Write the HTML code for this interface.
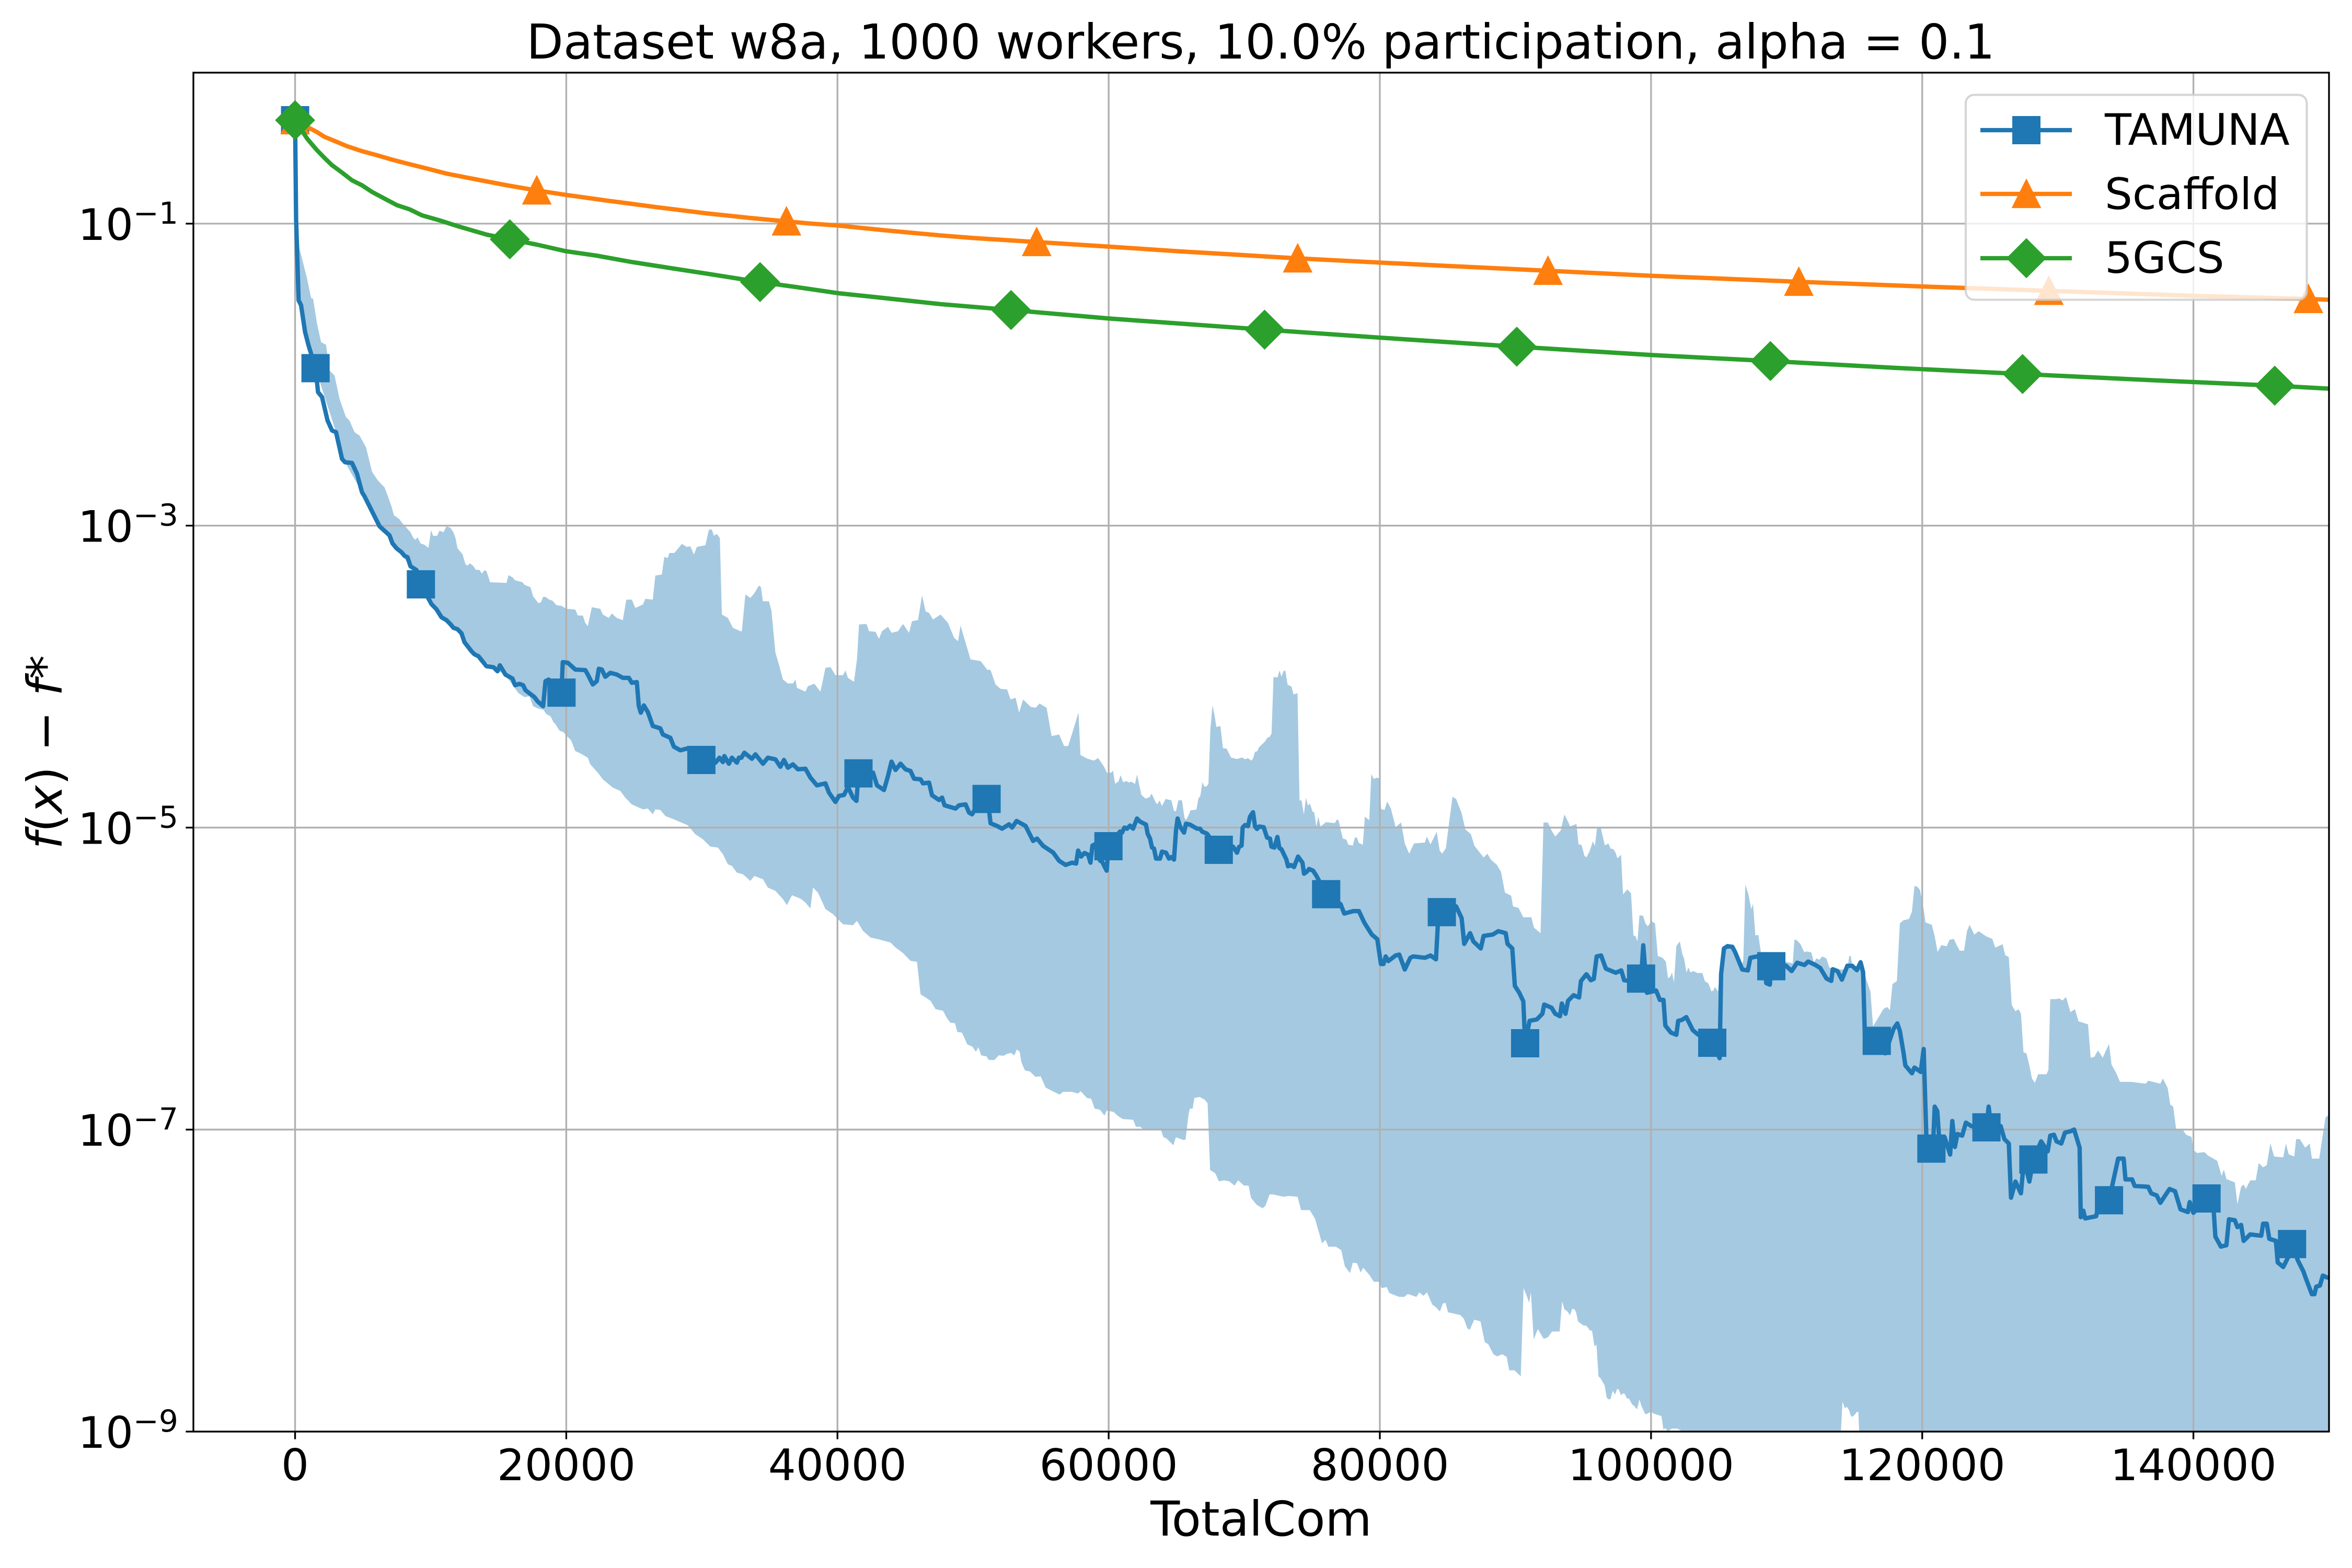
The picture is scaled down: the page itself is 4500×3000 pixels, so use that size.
<!DOCTYPE html>
<html lang="en">
<head>
<meta charset="utf-8">
<title>Dataset w8a convergence chart</title>
<style>
html,body{margin:0;padding:0;background:#fff;width:4500px;height:3000px;overflow:hidden}
svg{display:block}
text{font-family:"DejaVu Sans","Liberation Sans",sans-serif;fill:#000}
</style>
</head>
<body>
<svg id="chart" xmlns="http://www.w3.org/2000/svg" width="4500" height="3000" viewBox="0 0 4500 3000">
  <defs>
    <clipPath id="plot-clip"><rect x="370" y="139" width="4086" height="2600"></rect></clipPath>
  </defs>
  <rect x="0" y="0" width="4500" height="3000" fill="#fff"></rect>
  <g id="band-layer" clip-path="url(#plot-clip)"></g>
  <g id="grid-layer"></g>
  <g id="line-layer" clip-path="url(#plot-clip)"></g>
  <g id="tick-layer"></g>
  <rect x="370" y="139" width="4086" height="2600" fill="none" stroke="#000" stroke-width="3.33"></rect>
  <text x="2412" y="112" font-size="91.67" text-anchor="middle">Dataset w8a, 1000 workers, 10.0% participation, alpha = 0.1</text>
  <text x="2413" y="2938" font-size="91.67" text-anchor="middle">TotalCom</text>
  <text transform="translate(118 1439) rotate(-90)" font-size="91.67" text-anchor="middle"><tspan font-style="italic">f</tspan>(<tspan font-style="italic">x</tspan>) − <tspan font-style="italic">f</tspan>*</text>
  <g id="legend">
    <rect x="3761" y="181.5" width="652.5" height="392" rx="16" ry="16" fill="#fff" fill-opacity="0.8" stroke="#ccc" stroke-opacity="0.8" stroke-width="4.17"></rect>
    <g>
      <line x1="3789" x2="3964" y1="249" y2="249" stroke="#1f77b4" stroke-width="8.33"></line>
      <rect x="3850" y="222" width="54" height="54" fill="#1f77b4"></rect>
      <text x="4027" y="277" font-size="83.33">TAMUNA</text>
    </g>
    <g>
      <line x1="3789" x2="3964" y1="371" y2="371" stroke="#ff7f0e" stroke-width="8.33"></line>
      <path d="M3877 346L3902 396L3852 396Z" fill="#ff7f0e" stroke="#ff7f0e" stroke-width="4.17" stroke-linejoin="miter"></path>
      <text x="4027" y="400" font-size="83.33">Scaffold</text>
    </g>
    <g>
      <line x1="3789" x2="3964" y1="494" y2="494" stroke="#2ca02c" stroke-width="8.33"></line>
      <path d="M3877 458.6L3912.4 494L3877 529.4L3841.6 494Z" fill="#2ca02c" stroke="#2ca02c" stroke-width="4.17" stroke-linejoin="miter"></path>
      <text x="4027" y="522" font-size="83.33">5GCS</text>
    </g>
  </g>
</svg>
<script>
// ---- tick data ----
const xTickValues = [0, 20000, 40000, 60000, 80000, 100000, 120000, 140000];
const xTickLabels = ["0", "20000", "40000", "60000", "80000", "100000", "120000", "140000"];
const yTickExponents = [-1, -3, -5, -7, -9];
const yTickLabels = ["−1", "−3", "−5", "−7", "−9"];

// ---- TAMUNA mean (TotalCom, log10 of f(x)-f*) ----
const tamunaCom = [0,74,258,442,737,995,1510,1694,1989,2394,2725,3020,3462,3683,4199,4567,4935,5118,5560,6225,6520,6962,7183,7478,7847,8068,8290,8511,8954,9278,9700,10060,10428,10797,11166,11461,11682,11977,12272,12493,13010,13231,13526,13821,14116,14632,14927,15104,15517,16033,16225,16549,16815,16992,17656,17877,18290,18467,18700,19647,19742,20110,20664,21402,21587,21956,22251,22399,22620,22878,23247,23727,24170,24612,24834,25203,25351,25498,25720,26015,26384,26937,27122,27675,27934,28413,28967,29963,31000,31295,31550,31660,31993,32214,32583,32730,32915,33136,33690,33948,34502,34871,35424,35793,36052,36347,36716,37085,37638,38007,38487,39114,39372,39852,40110,40479,40774,41144,41402,41550,42620,42915,43432,43727,43985,44280,44649,45018,45387,45646,46125,46310,46753,46974,47491,47713,47897,48709,48967,49447,49705,49927,50400,50996,51200,51291,51771,52140,52657,52878,53210,53874,54427,54723,55166,55904,56347,56827,57300,57600,57747,57968,58217,58483,58660,58805,59000,59366,59514,59853,59985,60840,60988,61164,61356,61577,61798,62093,62314,62756,62874,63051,63198,63346,63493,63788,63935,64230,64451,64628,64820,64968,65085,65262,65557,65705,66000,66516,66737,66885,67253,68120,69170,69465,69613,69805,69880,70057,70278,70426,70647,70795,70943,71090,71430,71680,71900,72000,72225,72446,72593,72740,73110,73228,73450,73670,73966,74290,74410,74630,74778,75073,75265,76060,77105,77375,78050,78458,78863,79405,79810,80080,80270,80432,80622,81164,81434,81840,82246,82463,83328,83734,84140,84300,84573,85628,86034,86224,86657,86900,87442,87657,88334,88740,89281,89417,89769,89958,90283,90580,90717,91040,91582,91988,92123,92665,92935,93287,93422,93693,93882,94288,94694,94829,95235,95560,95776,95993,96318,96670,97400,97806,98022,98800,99267,99429,99700,100377,100650,100920,101055,101461,101867,102003,102273,102598,103085,103490,104516,105057,105165,105380,105650,106000,106190,106730,107140,107330,107815,108300,108500,108765,108870,109500,109960,110370,110775,111316,111587,112126,112480,112940,113293,113400,113750,114074,114480,114832,115183,115454,115640,115780,116645,117270,117890,118160,118350,118620,118755,119240,119430,119890,120108,120300,120676,120780,120920,121110,121300,121650,122057,122220,122408,122597,122950,123220,123626,124300,124735,124900,125100,125790,126060,126385,126550,126875,127280,127500,127900,128200,128768,129255,129445,129715,129905,130256,130527,130933,131203,131609,131690,131880,132015,132827,133000,133774,134450,134856,134990,135478,135667,136668,136885,137290,137560,138238,138644,139050,139591,139726,139997,140970,141400,141620,142027,142433,142622,143055,143245,143515,143705,144190,145003,145138,145408,145597,146085,146220,146625,147030,147276,147706,148112,148300,148734,148923,149058,149329,149545,149870,150000];
const tamunaLog10 = [-0.315,-0.967,-1.508,-1.54,-1.718,-1.807,-1.957,-2.116,-2.149,-2.304,-2.37,-2.381,-2.558,-2.58,-2.585,-2.657,-2.779,-2.805,-2.885,-3.004,-3.028,-3.064,-3.117,-3.15,-3.176,-3.2,-3.209,-3.269,-3.295,-3.389,-3.46,-3.52,-3.554,-3.607,-3.626,-3.653,-3.677,-3.686,-3.713,-3.772,-3.832,-3.852,-3.865,-3.898,-3.931,-3.938,-3.964,-3.925,-3.987,-4.013,-4.057,-4.048,-4.057,-4.09,-4.136,-4.163,-4.196,-4.03,-4.02,-4.106,-3.904,-3.908,-3.953,-3.957,-3.986,-4.052,-4.03,-3.948,-3.953,-4.001,-3.975,-3.986,-4.008,-4.008,-4.041,-4.036,-4.195,-4.239,-4.191,-4.235,-4.327,-4.343,-4.383,-4.405,-4.464,-4.488,-4.475,-4.552,-4.57,-4.537,-4.566,-4.526,-4.577,-4.537,-4.57,-4.537,-4.537,-4.504,-4.544,-4.515,-4.577,-4.537,-4.548,-4.597,-4.552,-4.603,-4.581,-4.614,-4.61,-4.669,-4.72,-4.707,-4.768,-4.83,-4.79,-4.784,-4.731,-4.801,-4.823,-4.641,-4.636,-4.72,-4.751,-4.658,-4.563,-4.618,-4.577,-4.614,-4.625,-4.676,-4.68,-4.707,-4.702,-4.786,-4.817,-4.801,-4.852,-4.874,-4.852,-4.846,-4.901,-4.912,-4.84,-4.81,-4.9,-4.971,-4.989,-5.007,-4.978,-5.0,-4.956,-4.989,-5.088,-5.073,-5.121,-5.165,-5.22,-5.247,-5.232,-5.238,-5.152,-5.192,-5.168,-5.179,-5.232,-5.119,-5.11,-5.219,-5.225,-5.285,-5.123,-5.026,-5.033,-5.0,-5.007,-4.987,-5.007,-4.94,-4.96,-4.98,-5.04,-5.073,-5.132,-5.139,-5.205,-5.205,-5.159,-5.166,-5.205,-5.195,-5.212,-5.02,-4.94,-4.993,-5.033,-4.974,-4.98,-5.007,-5.007,-5.026,-5.04,-5.147,-5.126,-5.166,-5.128,-5.119,-5.0,-4.983,-4.99,-4.927,-4.898,-4.993,-5.009,-4.993,-4.997,-5.066,-5.073,-5.126,-5.132,-5.062,-5.136,-5.143,-5.212,-5.256,-5.248,-5.261,-5.192,-5.232,-5.305,-5.291,-5.274,-5.285,-5.311,-5.441,-5.507,-5.569,-5.553,-5.553,-5.631,-5.708,-5.739,-5.903,-5.903,-5.853,-5.884,-5.847,-5.841,-5.94,-5.862,-5.853,-5.862,-5.847,-5.872,-5.6,-5.56,-5.522,-5.6,-5.77,-5.699,-5.754,-5.8,-5.717,-5.708,-5.686,-5.699,-5.77,-5.8,-6.048,-6.094,-6.15,-6.428,-6.28,-6.27,-6.233,-6.172,-6.193,-6.233,-6.249,-6.165,-6.233,-6.147,-6.11,-6.125,-6.017,-5.971,-6.011,-6.002,-5.853,-5.847,-5.934,-5.961,-5.946,-6.011,-6.02,-6.0,-5.779,-6.094,-6.079,-6.141,-6.141,-6.311,-6.357,-6.372,-6.28,-6.274,-6.255,-6.342,-6.372,-6.425,-6.527,-5.971,-5.8,-5.785,-5.79,-5.822,-5.94,-5.946,-5.862,-5.853,-5.88,-6.03,-6.04,-5.918,-5.9,-5.915,-5.95,-5.895,-5.91,-5.887,-5.91,-5.93,-6.0,-6.015,-5.938,-5.95,-6.007,-5.915,-5.915,-5.944,-5.892,-5.958,-6.405,-6.412,-6.495,-6.332,-6.297,-6.346,-6.49,-6.575,-6.627,-6.589,-6.618,-6.466,-7.034,-7.126,-7.15,-6.848,-6.877,-7.12,-7.05,-7.165,-6.943,-7.115,-7.029,-7.04,-6.954,-6.977,-6.99,-6.985,-6.848,-6.99,-6.977,-7.063,-7.092,-7.451,-7.344,-7.422,-7.2,-7.344,-7.198,-7.078,-7.144,-7.04,-7.034,-7.078,-7.092,-7.02,-7.011,-7.0,-7.12,-7.58,-7.537,-7.588,-7.574,-7.5,-7.468,-7.192,-7.192,-7.33,-7.33,-7.373,-7.379,-7.422,-7.436,-7.485,-7.393,-7.408,-7.528,-7.546,-7.48,-7.551,-7.456,-7.4,-7.709,-7.775,-7.766,-7.594,-7.6,-7.646,-7.631,-7.737,-7.694,-7.703,-7.623,-7.623,-7.723,-7.737,-7.88,-7.91,-7.838,-7.758,-7.867,-7.939,-7.987,-8.09,-8.09,-8.04,-8.033,-7.967,-7.98,-7.98];

// ---- TAMUNA marker samples ----
const tamunaMarkerCom = [0,1510,9278,19647,29963,41550,50996,59985,68120,76040,84573,90717,99267,104516,108870,116645,120676,124735,128200,133774,140970,147276];
const tamunaMarkerLog10 = [-0.315,-1.957,-3.389,-4.106,-4.552,-4.641,-4.81,-5.123,-5.147,-5.441,-5.56,-6.428,-6.0,-6.425,-5.918,-6.412,-7.126,-6.985,-7.198,-7.468,-7.456,-7.758];

// ---- TAMUNA band upper edge ----
const upperCom = [0,147,330,884,1179,1326,1620,1915,2284,2540,2910,3278,3757,4015,4383,4751,5230,5672,6114,6593,6844,7110,7287,7700,7847,8511,8732,8880,9027,9248,9543,9838,10030,10178,10473,10650,10945,11166,11461,11682,11830,11977,12346,12567,12715,12892,13157,13334,13600,13777,13968,14116,14381,15591,15738,16033,16225,16771,16918,17361,17553,17951,18128,18290,18467,18762,18983,19278,19647,20000,20664,20849,21218,21402,21587,21882,22509,22694,23136,23358,23727,24170,24428,24834,25092,25646,25830,26384,26568,27048,27232,27490,27600,27970,28524,28893,29150,29410,29631,30258,30517,30738,30885,31107,31328,31476,31919,32288,32841,32952,33210,33579,33837,34207,34354,34502,34944,35129,35424,35682,35978,36347,36716,36900,37010,37638,37823,38302,38745,39114,39483,39852,40405,40590,40774,41217,41439,41587,42140,42325,42805,43063,43284,43727,43985,44464,44833,45277,45498,45941,46236,46495,46753,47047,47600,48155,48600,48892,49077,49447,49815,50553,51033,51291,51660,52029,52509,52767,53136,53395,53690,54243,54612,54908,55424,55793,56347,56716,57011,57300,57775,57922,58408,58924,59219,59660,59882,60177,60324,60472,60722,60884,61061,61312,61503,61680,61946,62093,62417,62727,63007,63169,63493,63611,63744,63935,64201,64628,64820,64968,65144,65410,65586,65705,65881,66043,66471,66618,66766,66914,67060,67208,67355,67503,67665,67812,67945,68240,68430,68697,69021,69465,69830,70050,70278,70524,70643,70790,70967,71084,71527,71718,71865,72015,72160,72455,72602,72750,72898,73030,73192,73487,73635,73930,74077,74225,74400,74548,74695,74843,75035,75168,75315,75462,75625,76023,76685,76833,76951,77128,77275,77526,77673,78012,78159,78307,78454,78749,78897,79221,79368,79560,79781,79929,80092,80352,80541,80812,81164,81570,81840,82165,82517,83328,83464,83734,84194,84410,84600,84870,85087,85358,85628,86034,86305,86710,86981,87658,87928,88200,88605,88930,89227,89687,89823,90229,90580,91176,91365,91852,92069,92394,92664,92935,93341,93612,93912,94030,94502,94650,94870,95092,95240,95460,95710,95858,96020,96270,96595,96860,97008,97229,97376,97524,97789,97936,98261,98526,98703,98850,98998,99145,99410,99587,99764,100030,100295,100500,100840,101090,101253,101430,101548,101695,101872,102123,102314,102432,102610,102756,102904,103125,103420,103788,103965,104230,104451,104600,104717,104938,105070,105336,105410,105704,106073,106440,106663,106810,106957,107180,107400,107517,107694,107915,108136,108650,110450,110570,110715,111010,111305,111453,111821,112013,112190,112410,112630,112927,113148,113369,114475,114622,114725,114843,115700,115875,116185,116374,117132,117402,117619,117808,118133,118350,118620,119026,119242,119432,119648,119838,120108,120244,120704,120920,121137,121407,121813,122002,122327,122544,122760,123085,123301,123490,123843,124167,124708,125168,125384,125926,126115,126386,126603,126873,127090,127279,127469,127685,127902,128091,128307,128551,129173,129308,129444,129850,130120,130337,130607,130932,131257,131527,132231,132421,132691,132962,133313,133773,133963,134315,134586,135398,136480,136669,137562,137751,138103,138293,138509,138726,139186,139456,139862,139997,140268,140809,141080,141756,142081,142243,142433,143055,143245,143515,143705,143867,144192,144597,144814,145138,145409,145680,145950,146627,146816,147033,147439,147574,147845,148251,148576,148738,149279,149739,149955,150000];
const upperLog10 = [-0.315,-0.967,-1.166,-1.365,-1.493,-1.497,-1.663,-1.785,-1.802,-1.972,-2.006,-2.16,-2.282,-2.304,-2.381,-2.403,-2.481,-2.642,-2.702,-2.746,-2.805,-2.872,-2.931,-2.958,-2.977,-3.044,-3.083,-3.094,-3.077,-3.117,-3.127,-3.147,-3.03,-3.068,-3.068,-3.033,-3.044,-3.004,-3.015,-3.044,-3.083,-3.15,-3.189,-3.256,-3.265,-3.249,-3.269,-3.293,-3.293,-3.318,-3.295,-3.302,-3.375,-3.379,-3.328,-3.342,-3.362,-3.375,-3.392,-3.408,-3.468,-3.514,-3.507,-3.472,-3.472,-3.491,-3.497,-3.527,-3.531,-3.551,-3.556,-3.595,-3.595,-3.644,-3.666,-3.54,-3.551,-3.589,-3.611,-3.582,-3.611,-3.626,-3.49,-3.49,-3.545,-3.523,-3.485,-3.49,-3.331,-3.324,-3.207,-3.214,-3.181,-3.181,-3.121,-3.141,-3.137,-3.192,-3.141,-3.13,-3.026,-3.026,-3.066,-3.055,-3.082,-3.589,-3.611,-3.677,-3.699,-3.699,-3.456,-3.479,-3.452,-3.397,-3.406,-3.501,-3.501,-3.562,-3.842,-3.92,-4.019,-4.045,-4.045,-4.019,-4.074,-4.1,-4.063,-4.047,-4.1,-3.942,-3.937,-3.99,-3.99,-3.959,-4.008,-4.034,-3.886,-3.655,-3.651,-3.699,-3.703,-3.75,-3.699,-3.67,-3.71,-3.699,-3.651,-3.71,-3.633,-3.626,-3.461,-3.567,-3.578,-3.622,-3.589,-3.644,-3.743,-3.765,-3.662,-3.776,-3.886,-3.897,-3.953,-3.957,-4.052,-4.081,-4.085,-4.151,-4.14,-4.239,-4.151,-4.2,-4.206,-4.178,-4.206,-4.394,-4.383,-4.46,-4.46,-4.378,-4.238,-4.519,-4.543,-4.556,-4.539,-4.596,-4.638,-4.636,-4.623,-4.709,-4.695,-4.653,-4.699,-4.691,-4.702,-4.695,-4.711,-4.649,-4.784,-4.808,-4.799,-4.775,-4.837,-4.844,-4.819,-4.857,-4.81,-4.819,-4.89,-4.89,-4.819,-4.819,-4.934,-4.95,-4.921,-4.885,-4.881,-4.808,-4.788,-4.699,-4.728,-4.728,-4.711,-4.344,-4.189,-4.258,-4.334,-4.327,-4.474,-4.477,-4.536,-4.546,-4.536,-4.547,-4.54,-4.556,-4.543,-4.499,-4.493,-4.468,-4.43,-4.404,-4.4,-4.377,-4.003,-4.005,-3.96,-4.0,-3.963,-3.96,-4.053,-4.066,-4.119,-4.11,-4.821,-4.819,-4.914,-4.801,-4.854,-4.841,-4.894,-4.901,-4.993,-4.927,-4.993,-4.964,-4.97,-4.947,-4.951,-5.02,-5.073,-5.079,-5.113,-5.119,-5.066,-5.066,-5.102,-5.113,-4.927,-4.951,-4.646,-4.678,-4.669,-4.673,-4.877,-4.883,-4.827,-4.873,-4.997,-4.966,-5.105,-5.173,-5.105,-5.099,-5.059,-5.111,-5.028,-5.151,-5.173,-5.136,-4.981,-4.796,-4.811,-4.904,-5.012,-5.043,-5.121,-5.198,-5.173,-5.213,-5.244,-5.291,-5.43,-5.451,-5.522,-5.532,-5.594,-5.594,-5.662,-5.699,-4.966,-4.966,-5.019,-5.059,-5.019,-4.913,-4.966,-4.992,-4.976,-5.111,-5.114,-5.187,-5.197,-5.158,-5.091,-5.121,-5.005,-4.992,-5.118,-5.105,-5.138,-5.144,-5.164,-5.204,-5.18,-5.442,-5.409,-5.436,-5.714,-5.718,-5.754,-5.581,-5.584,-5.634,-5.654,-5.619,-5.634,-5.85,-5.862,-5.886,-5.999,-5.985,-5.959,-6.025,-5.783,-5.754,-5.84,-5.866,-5.959,-5.926,-5.959,-5.95,-5.963,-5.963,-6.016,-6.032,-6.085,-6.078,-6.056,-6.085,-5.959,-5.952,-5.813,-5.774,-5.774,-5.846,-5.926,-5.873,-5.376,-5.442,-5.542,-5.502,-5.714,-5.711,-5.846,-5.86,-5.899,-5.743,-5.743,-5.77,-5.826,-5.82,-5.826,-5.893,-5.866,-5.875,-5.853,-5.866,-5.926,-5.939,-5.939,-5.85,-5.85,-5.913,-5.946,-6.005,-6.087,-6.317,-6.202,-6.188,-6.208,-6.036,-6.016,-5.634,-5.614,-5.605,-5.557,-5.385,-5.393,-5.413,-5.542,-5.628,-5.643,-5.72,-5.824,-5.778,-5.786,-5.743,-5.737,-5.778,-5.815,-5.815,-5.686,-5.643,-5.709,-5.686,-5.72,-5.737,-5.795,-5.772,-5.844,-5.858,-6.174,-6.217,-6.202,-6.231,-6.489,-6.495,-6.575,-6.661,-6.69,-6.633,-6.633,-6.604,-6.136,-6.136,-6.131,-6.145,-6.122,-6.222,-6.202,-6.283,-6.303,-6.524,-6.518,-6.475,-6.524,-6.432,-6.57,-6.627,-6.684,-6.684,-6.696,-6.676,-6.696,-6.661,-6.725,-6.834,-6.848,-6.997,-6.997,-7.034,-7.048,-7.135,-7.155,-7.149,-7.172,-7.207,-7.307,-7.264,-7.327,-7.35,-7.494,-7.379,-7.364,-7.393,-7.336,-7.336,-7.221,-7.25,-7.235,-7.092,-7.178,-7.184,-7.092,-7.164,-7.178,-7.063,-7.063,-7.12,-7.092,-7.192,-7.192,-6.92,-6.905,-6.9];

// ---- TAMUNA band lower edge ----
const lowerCom = [0,74,258,737,1510,3020,3683,4935,6225,8511,10060,11977,13231,14632,15517,16476,16918,17287,17553,17951,18320,18540,18836,19057,19205,19500,19795,20016,20355,20664,21033,21587,21771,22325,22694,23432,23985,24354,24834,25646,26015,26384,26568,26937,27306,28044,28967,29520,30074,30627,31181,31550,31919,32214,32583,33026,33579,33874,34502,34871,35424,35978,36273,36642,37269,37638,38007,38192,38561,39114,39668,40405,41144,41439,41882,42435,42990,43911,44280,44834,45387,45867,46125,46863,47232,47786,48070,48328,48664,48844,49180,49360,49567,49954,50212,50390,50600,50985,51166,51580,51890,52275,52456,52792,53050,53230,53437,53566,53824,54210,54600,54985,55356,55743,56388,56646,57290,57730,57936,58400,58710,58968,59355,59690,59871,60387,60645,61032,61806,62012,62322,62580,63870,64050,64257,64773,64954,65547,65676,65882,65986,66192,66321,66708,67095,67300,67482,67870,68127,68514,68900,69288,69546,69985,70320,70500,70913,71352,71558,71868,72126,72900,73287,73932,74190,74835,75222,75480,75738,75996,76202,76770,77157,77415,77800,78008,78318,78576,78782,79220,79556,80000,80124,80510,80690,81414,81800,82060,82704,82910,83220,83478,83865,84123,84433,84640,84845,85026,85930,86190,86450,86625,86961,87425,87735,87993,88380,88638,89025,89360,89540,89928,90392,90600,90830,91012,91140,91347,91657,92085,92400,92700,93260,93440,93618,93840,94030,94178,94355,94473,94620,94990,95240,95505,95650,95830,95976,96123,96270,96580,96728,96875,97023,97170,97347,97494,97612,97789,97936,98054,98231,98379,98600,98747,98968,99145,99292,99410,99587,99926,100074,100190,100370,100486,100766,100914,101060,101225,101548,101916,102137,102330,102432,102700,113950,114003,114120,114298,114445,114593,114740,114858,115080,115183,115292,115346,115500,150000];
const lowerLog10 = [-0.315,-0.967,-1.508,-1.72,-1.96,-2.38,-2.58,-2.78,-3.0,-3.27,-3.52,-3.69,-3.85,-3.94,-3.99,-4.11,-4.136,-4.13,-4.196,-4.212,-4.22,-4.249,-4.262,-4.302,-4.315,-4.358,-4.368,-4.391,-4.421,-4.493,-4.508,-4.537,-4.581,-4.636,-4.68,-4.735,-4.757,-4.802,-4.846,-4.879,-4.874,-4.912,-4.879,-4.883,-4.923,-4.949,-4.985,-5.044,-5.077,-5.126,-5.132,-5.176,-5.243,-5.254,-5.298,-5.309,-5.353,-5.32,-5.342,-5.397,-5.419,-5.474,-5.514,-5.448,-5.47,-5.496,-5.536,-5.397,-5.43,-5.54,-5.573,-5.64,-5.646,-5.617,-5.684,-5.728,-5.739,-5.761,-5.794,-5.831,-5.882,-5.889,-6.103,-6.147,-6.202,-6.213,-6.261,-6.292,-6.295,-6.353,-6.358,-6.392,-6.435,-6.451,-6.485,-6.454,-6.508,-6.515,-6.539,-6.539,-6.508,-6.511,-6.5,-6.492,-6.508,-6.469,-6.485,-6.554,-6.608,-6.616,-6.651,-6.647,-6.722,-6.74,-6.768,-6.75,-6.75,-6.761,-6.745,-6.791,-6.796,-6.861,-6.868,-6.907,-6.873,-6.884,-6.907,-6.93,-6.935,-6.981,-6.981,-7.0,-7.005,-7.051,-7.058,-7.104,-7.051,-7.07,-7.065,-6.907,-6.861,-6.861,-6.791,-6.784,-6.803,-6.826,-7.267,-7.29,-7.343,-7.336,-7.343,-7.371,-7.336,-7.371,-7.371,-7.452,-7.498,-7.521,-7.505,-7.429,-7.429,-7.445,-7.44,-7.445,-7.533,-7.533,-7.591,-7.672,-7.753,-7.73,-7.776,-7.776,-7.799,-7.904,-7.95,-7.881,-7.885,-7.946,-7.915,-7.962,-8.008,-8.008,-8.05,-8.043,-8.082,-8.108,-8.108,-8.089,-8.108,-8.078,-8.101,-8.078,-8.159,-8.175,-8.205,-8.152,-8.147,-8.21,-8.228,-8.251,-8.316,-8.326,-8.259,-8.27,-8.407,-8.421,-8.488,-8.502,-8.488,-8.506,-8.594,-8.594,-8.634,-8.05,-8.101,-8.147,-8.078,-8.39,-8.321,-8.386,-8.375,-8.337,-8.337,-8.138,-8.19,-8.205,-8.23,-8.187,-8.19,-8.21,-8.271,-8.296,-8.3,-8.331,-8.331,-8.436,-8.424,-8.634,-8.646,-8.694,-8.775,-8.787,-8.784,-8.729,-8.755,-8.718,-8.721,-8.759,-8.747,-8.75,-8.781,-8.782,-8.819,-8.83,-8.853,-8.787,-8.83,-8.853,-8.886,-8.873,-8.871,-8.882,-8.885,-8.89,-8.897,-8.986,-8.977,-8.998,-8.98,-8.98,-8.99,-8.998,-9.003,-9.4,-9.4,-9.003,-8.802,-8.845,-8.836,-8.856,-8.896,-8.902,-8.882,-8.87,-8.87,-9.0,-9.4,-9.4];

// ---- Scaffold ----
const scaffoldCom = [0,884,1620,2173,3094,3830,4935,6040,7145,8250,9723,11196,13406,15616,17825,20000,22980,24823,26660,28506,30350,33294,36240,38082,40000,43600,47580,50000,54690,60000,65000,73940,80000,85000,92400,100000,110900,120000,129340,140000,148480,150000];
const scaffoldLog10 = [-0.315,-0.359,-0.394,-0.425,-0.459,-0.487,-0.52,-0.547,-0.576,-0.602,-0.635,-0.669,-0.708,-0.746,-0.78,-0.81,-0.847,-0.869,-0.891,-0.911,-0.932,-0.96,-0.985,-1.0,-1.012,-1.045,-1.078,-1.095,-1.122,-1.152,-1.182,-1.23,-1.258,-1.28,-1.312,-1.345,-1.385,-1.416,-1.445,-1.478,-1.499,-1.504];
const scaffoldMarkerCom = [0,17825,36240,54690,73940,92400,110900,129340,148480];
const scaffoldMarkerLog10 = [-0.315,-0.78,-0.985,-1.122,-1.23,-1.312,-1.385,-1.445,-1.499];

// ---- 5GCS ----
const gcsCom = [0,884,1252,1620,2173,2725,3462,4200,4935,5672,6593,7513,8434,9355,10644,11933,13038,14142,15837,17825,20000,22245,24823,27400,30350,34290,36976,40000,43240,47600,52800,60000,71500,80000,90100,100000,108800,118000,127400,137000,146000,150000];
const gcsLog10 = [-0.315,-0.436,-0.476,-0.514,-0.565,-0.613,-0.662,-0.713,-0.746,-0.79,-0.834,-0.878,-0.905,-0.945,-0.978,-1.015,-1.044,-1.073,-1.104,-1.139,-1.183,-1.212,-1.254,-1.29,-1.331,-1.387,-1.42,-1.46,-1.491,-1.533,-1.572,-1.628,-1.702,-1.755,-1.815,-1.87,-1.91,-1.955,-1.996,-2.037,-2.073,-2.093];
const gcsMarkerCom = [0,15837,34290,52800,71500,90100,108800,127400,146000];
const gcsMarkerLog10 = [-0.315,-1.104,-1.387,-1.572,-1.702,-1.815,-1.91,-1.996,-2.073];

// ---- axis functions ----
const AXIS_LEFT = 370, AXIS_RIGHT = 4456, AXIS_TOP = 139, AXIS_BOTTOM = 2739;
const X_MIN = -7500, X_MAX = 150000, LOG_MIN = -9, LOG_MAX = 0;
function xScale(com) {
  return AXIS_LEFT + (com - X_MIN) / (X_MAX - X_MIN) * (AXIS_RIGHT - AXIS_LEFT);
}
function yScale(logValue) {
  return AXIS_BOTTOM - (logValue - LOG_MIN) / (LOG_MAX - LOG_MIN) * (AXIS_BOTTOM - AXIS_TOP);
}
function fmt(v) { return v.toFixed(1); }
function polyline(xs, ys) {
  return xs.map(function (c, i) { return (i ? 'L' : 'M') + fmt(xScale(c)) + ' ' + fmt(yScale(ys[i])); }).join('');
}
const NS = 'http://www.w3.org/2000/svg';
function make(tag) { return document.createElementNS(NS, tag); }

const bandLayer = document.getElementById('band-layer');
const gridLayer = document.getElementById('grid-layer');
const lineLayer = document.getElementById('line-layer');
const tickLayer = document.getElementById('tick-layer');

// band
const band = make('path');


const bandTop = polyline(upperCom, upperLog10);
const bandBottom = polyline(lowerCom.slice().reverse(), lowerLog10.slice().reverse()).replace('M', 'L');
band.setAttribute('d', bandTop + bandBottom + 'Z');
band.setAttribute('fill', '#1f77b4');
band.setAttribute('fill-opacity', '0.4');
bandLayer.appendChild(band);

// vertical grid, x ticks, x tick labels
xTickValues.forEach(function (v, i) {
  const px = xScale(v);
  const g = make('line');
  
  
  g.setAttribute('x1', px); g.setAttribute('x2', px);
  g.setAttribute('y1', AXIS_TOP); g.setAttribute('y2', AXIS_BOTTOM);
  g.setAttribute('stroke', '#b0b0b0'); g.setAttribute('stroke-width', '3.33');
  gridLayer.appendChild(g);
  const t = make('line');
  
  
  t.setAttribute('x1', px); t.setAttribute('x2', px);
  t.setAttribute('y1', AXIS_BOTTOM); t.setAttribute('y2', AXIS_BOTTOM + 14.6);
  t.setAttribute('stroke', '#000'); t.setAttribute('stroke-width', '3.33');
  tickLayer.appendChild(t);
  const l = make('text');
  
  
  l.setAttribute('x', px); l.setAttribute('y', 2832);
  l.setAttribute('font-size', '83.33'); l.setAttribute('text-anchor', 'middle');
  l.textContent = xTickLabels[i];
  tickLayer.appendChild(l);
});

// horizontal grid, y ticks, y tick labels
yTickExponents.forEach(function (e, i) {
  const py = yScale(e);
  const g = make('line');
  
  
  g.setAttribute('x1', AXIS_LEFT); g.setAttribute('x2', AXIS_RIGHT);
  g.setAttribute('y1', py); g.setAttribute('y2', py);
  g.setAttribute('stroke', '#b0b0b0'); g.setAttribute('stroke-width', '3.33');
  gridLayer.appendChild(g);
  const t = make('line');
  
  
  t.setAttribute('x1', AXIS_LEFT - 14.6); t.setAttribute('x2', AXIS_LEFT);
  t.setAttribute('y1', py); t.setAttribute('y2', py);
  t.setAttribute('stroke', '#000'); t.setAttribute('stroke-width', '3.33');
  tickLayer.appendChild(t);
  const l = make('text');
  
  
  l.setAttribute('x', 341); l.setAttribute('y', py + 31);
  l.setAttribute('font-size', '83.33'); l.setAttribute('text-anchor', 'end');
  const base = make('tspan');
  base.textContent = '10';
  const exp = make('tspan');
  exp.setAttribute('font-size', '58.33');
  exp.setAttribute('dy', '-31');
  exp.textContent = yTickLabels[i];
  l.appendChild(base);
  l.appendChild(exp);
  tickLayer.appendChild(l);
});

// series lines
const tamunaLine = make('path');


tamunaLine.setAttribute('d', polyline(tamunaCom, tamunaLog10));
tamunaLine.setAttribute('fill', 'none');
tamunaLine.setAttribute('stroke', '#1f77b4');
tamunaLine.setAttribute('stroke-width', '8.33');
tamunaLine.setAttribute('stroke-linejoin', 'round');
lineLayer.appendChild(tamunaLine);

tamunaMarkerCom.forEach(function (c, i) {
  const cx = xScale(c), cy = yScale(tamunaMarkerLog10[i]);
  const m = make('rect');
  
  
  m.setAttribute('x', fmt(cx - 27)); m.setAttribute('y', fmt(cy - 27));
  m.setAttribute('width', '54'); m.setAttribute('height', '54');
  m.setAttribute('fill', '#1f77b4');
  lineLayer.appendChild(m);
});

const scaffoldLine = make('path');


scaffoldLine.setAttribute('d', polyline(scaffoldCom, scaffoldLog10));
scaffoldLine.setAttribute('fill', 'none');
scaffoldLine.setAttribute('stroke', '#ff7f0e');
scaffoldLine.setAttribute('stroke-width', '8.33');
scaffoldLine.setAttribute('stroke-linejoin', 'round');
lineLayer.appendChild(scaffoldLine);

scaffoldMarkerCom.forEach(function (c, i) {
  const cx = xScale(c), cy = yScale(scaffoldMarkerLog10[i]);
  const m = make('path');
  
  
  m.setAttribute('d', 'M' + fmt(cx) + ' ' + fmt(cy - 25) + 'L' + fmt(cx + 25) + ' ' + fmt(cy + 25) + 'L' + fmt(cx - 25) + ' ' + fmt(cy + 25) + 'Z');
  m.setAttribute('fill', '#ff7f0e');
  m.setAttribute('stroke', '#ff7f0e');
  m.setAttribute('stroke-width', '4.17');
  lineLayer.appendChild(m);
});

const gcsLine = make('path');


gcsLine.setAttribute('d', polyline(gcsCom, gcsLog10));
gcsLine.setAttribute('fill', 'none');
gcsLine.setAttribute('stroke', '#2ca02c');
gcsLine.setAttribute('stroke-width', '8.33');
gcsLine.setAttribute('stroke-linejoin', 'round');
lineLayer.appendChild(gcsLine);

gcsMarkerCom.forEach(function (c, i) {
  const cx = xScale(c), cy = yScale(gcsMarkerLog10[i]);
  const m = make('path');
  
  
  m.setAttribute('d', 'M' + fmt(cx) + ' ' + fmt(cy - 35.4) + 'L' + fmt(cx + 35.4) + ' ' + fmt(cy) + 'L' + fmt(cx) + ' ' + fmt(cy + 35.4) + 'L' + fmt(cx - 35.4) + ' ' + fmt(cy) + 'Z');
  m.setAttribute('fill', '#2ca02c');
  m.setAttribute('stroke', '#2ca02c');
  m.setAttribute('stroke-width', '4.17');
  lineLayer.appendChild(m);
});
</script>
</body>
</html>
